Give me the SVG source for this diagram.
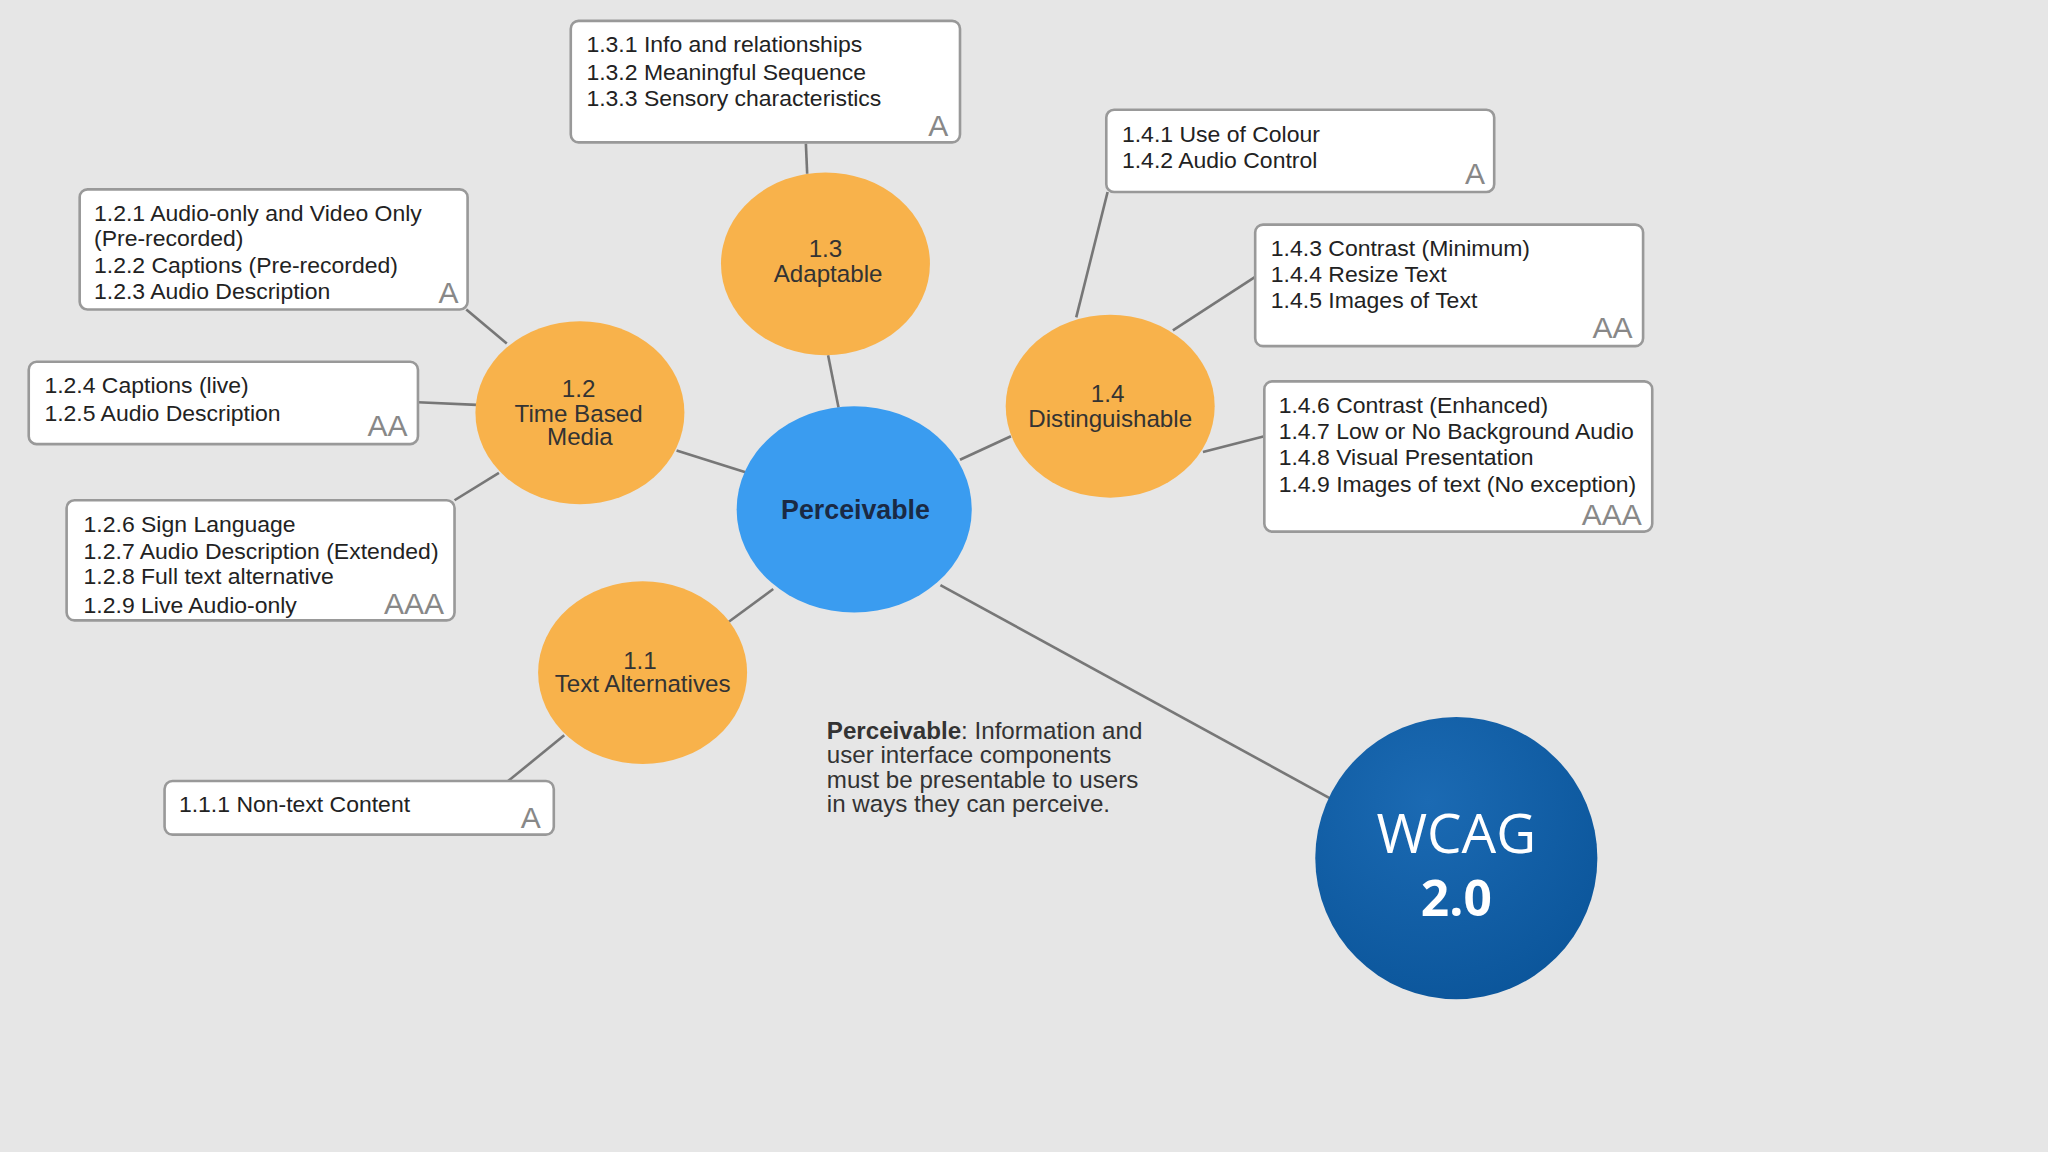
<svg xmlns="http://www.w3.org/2000/svg" width="2048" height="1152" viewBox="0 0 2048 1152">
<style>
.bx{fill:#fff;stroke:#999;stroke-width:2}
.t{font-family:"Liberation Sans",Arial,sans-serif;font-size:17.6px;fill:#222}
.lv{font-family:"Liberation Sans",Arial,sans-serif;font-size:23px;fill:#888}
.or{fill:#f8b24b}
.ot{font-family:"Liberation Sans",Arial,sans-serif;font-size:18.5px;fill:#333;text-anchor:middle}
.ln{stroke:#777;stroke-width:2;fill:none}
</style>
<defs>
<radialGradient id="wg" cx="0.4" cy="0.3" r="0.8">
<stop offset="0" stop-color="#1b6ab3"/><stop offset="1" stop-color="#0a5499"/>
</radialGradient>
</defs>
<rect width="2048" height="1152" fill="#e6e6e6"/>
<g transform="scale(1.30612)">
<g id="connectors" class="ln">
<line x1="642" y1="312" x2="634" y2="272"/>
<line x1="617" y1="110" x2="618" y2="133"/>
<line x1="572" y1="362" x2="518" y2="345"/>
<line x1="388" y1="263" x2="357" y2="237"/>
<line x1="320" y1="308" x2="365" y2="310"/>
<line x1="348" y1="383" x2="382" y2="362"/>
<line x1="592" y1="451" x2="558" y2="476"/>
<line x1="389" y1="598" x2="432" y2="563"/>
<line x1="735" y1="352" x2="774" y2="334"/>
<line x1="848" y1="147" x2="824" y2="243"/>
<line x1="898" y1="253" x2="961" y2="212"/>
<line x1="921" y1="346" x2="968" y2="334"/>
<line x1="720" y1="448" x2="1018" y2="611"/>
</g>
<g id="perceivable">
<ellipse cx="654" cy="390" rx="90" ry="79" fill="#3a9cf0"/>
<text x="655" y="397" text-anchor="middle" font-family="Liberation Sans,Arial,sans-serif" font-size="20.5" font-weight="bold" fill="#1a2a44">Perceivable</text>
</g>
<g id="n13"><ellipse class="or" cx="632" cy="202" rx="80" ry="70"/>
<text class="ot" x="632" y="197">1.3</text><text class="ot" x="634" y="216">Adaptable</text></g>
<g id="n12"><ellipse class="or" cx="444" cy="316" rx="80" ry="70"/>
<text class="ot" x="443" y="304">1.2</text><text class="ot" x="443" y="323">Time Based</text><text class="ot" x="444" y="341">Media</text></g>
<g id="n14"><ellipse class="or" cx="850" cy="311" rx="80" ry="70"/>
<text class="ot" x="848" y="308">1.4</text><text class="ot" x="850" y="327">Distinguishable</text></g>
<g id="n11"><ellipse class="or" cx="492" cy="515" rx="80" ry="70"/>
<text class="ot" x="490" y="512">1.1</text><text class="ot" x="492" y="530">Text Alternatives</text></g>
<g id="wcag"><circle cx="1115" cy="657" r="108" fill="url(#wg)"/>
<text x="1115" y="653" text-anchor="middle" font-family="Open Sans,Liberation Sans,sans-serif" font-size="42" fill="#fff">WCAG</text>
<text x="1115" y="701" text-anchor="middle" font-family="Open Sans,Liberation Sans,sans-serif" font-size="38" font-weight="bold" fill="#fff">2.0</text></g>
<g id="b13"><rect class="bx" x="437" y="16" width="298" height="93" rx="6"/>
<text class="t" x="449" y="40">1.3.1 Info and relationships</text><text class="t" x="449" y="61">1.3.2 Meaningful Sequence</text><text class="t" x="449" y="81">1.3.3 Sensory characteristics</text>
<text class="lv" x="726" y="104" text-anchor="end">A</text></g>
<g id="b12a"><rect class="bx" x="61" y="145" width="297" height="92" rx="6"/>
<text class="t" x="72" y="169">1.2.1 Audio-only and Video Only</text><text class="t" x="72" y="188">(Pre-recorded)</text><text class="t" x="72" y="209">1.2.2 Captions (Pre-recorded)</text><text class="t" x="72" y="229">1.2.3 Audio Description</text>
<text class="lv" x="351" y="232" text-anchor="end">A</text></g>
<g id="b12aa"><rect class="bx" x="22" y="277" width="298" height="63" rx="6"/>
<text class="t" x="34" y="301">1.2.4 Captions (live)</text><text class="t" x="34" y="322">1.2.5 Audio Description</text>
<text class="lv" x="312" y="334" text-anchor="end">AA</text></g>
<g id="b12aaa"><rect class="bx" x="51" y="383" width="297" height="92" rx="6"/>
<text class="t" x="64" y="407">1.2.6 Sign Language</text><text class="t" x="64" y="428">1.2.7 Audio Description (Extended)</text><text class="t" x="64" y="447">1.2.8 Full text alternative</text><text class="t" x="64" y="469">1.2.9 Live Audio-only</text>
<text class="lv" x="340" y="470" text-anchor="end">AAA</text></g>
<g id="b11"><rect class="bx" x="126" y="598" width="298" height="41" rx="6"/>
<text class="t" x="137" y="622">1.1.1 Non-text Content</text>
<text class="lv" x="414" y="634" text-anchor="end">A</text></g>
<g id="b14a"><rect class="bx" x="847" y="84" width="297" height="63" rx="6"/>
<text class="t" x="859" y="109">1.4.1 Use of Colour</text><text class="t" x="859" y="129">1.4.2 Audio Control</text>
<text class="lv" x="1137" y="141" text-anchor="end">A</text></g>
<g id="b14aa"><rect class="bx" x="961" y="172" width="297" height="93" rx="6"/>
<text class="t" x="973" y="196">1.4.3 Contrast (Minimum)</text><text class="t" x="973" y="216">1.4.4 Resize Text</text><text class="t" x="973" y="236">1.4.5 Images of Text</text>
<text class="lv" x="1250" y="259" text-anchor="end">AA</text></g>
<g id="b14aaa"><rect class="bx" x="968" y="292" width="297" height="115" rx="6"/>
<text class="t" x="979" y="316">1.4.6 Contrast (Enhanced)</text><text class="t" x="979" y="336">1.4.7 Low or No Background Audio</text><text class="t" x="979" y="356">1.4.8 Visual Presentation</text><text class="t" x="979" y="377">1.4.9 Images of text (No exception)</text>
<text class="lv" x="1257" y="402" text-anchor="end">AAA</text></g>
<g id="desc" font-family="Liberation Sans,Arial,sans-serif" font-size="18.5" fill="#333">
<text x="633" y="566"><tspan font-weight="bold">Perceivable</tspan>: Information and</text>
<text x="633" y="584">user interface components</text>
<text x="633" y="603">must be presentable to users</text>
<text x="633" y="622">in ways they can perceive.</text>
</g>
</g>
</svg>
